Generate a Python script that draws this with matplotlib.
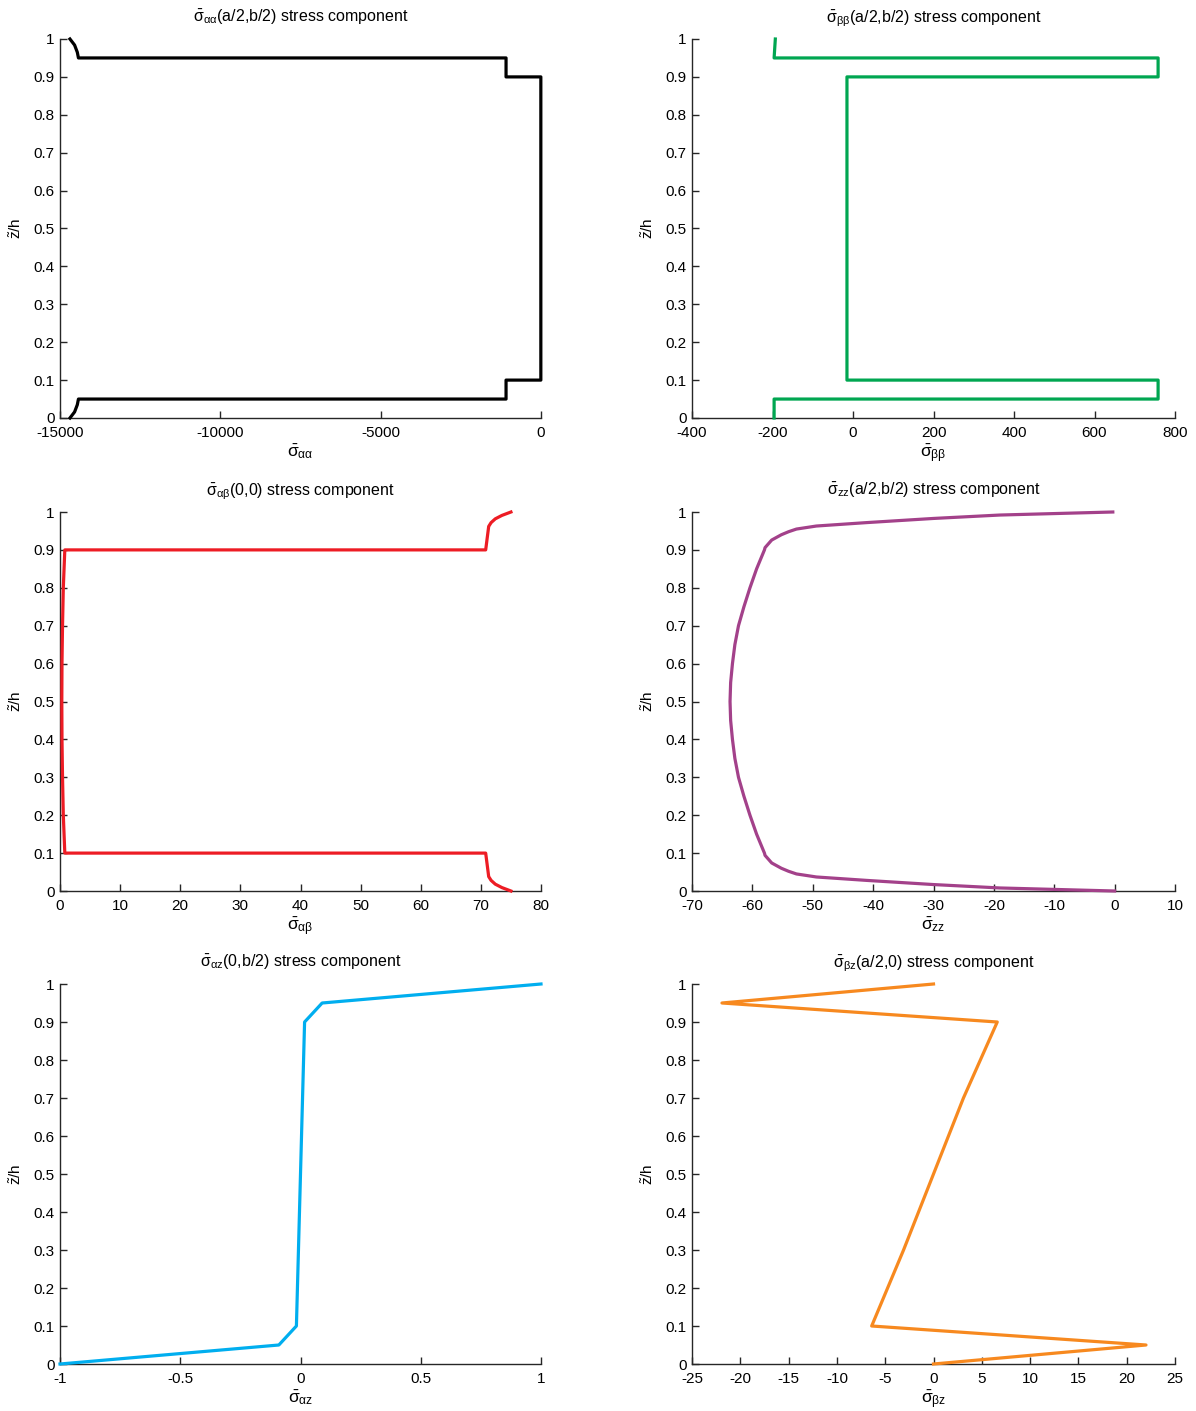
import matplotlib
matplotlib.use("Agg")
import matplotlib.pyplot as plt
from matplotlib.ticker import FormatStrFormatter, MultipleLocator

plt.rcParams.update({
    "font.family": ["Liberation Sans", "DejaVu Sans"],
    "mathtext.fontset": "custom",
    "mathtext.rm": "Liberation Sans",
    "mathtext.it": "Liberation Sans",
    "mathtext.bf": "Liberation Sans:bold",
    "axes.unicode_minus": False,
    "font.size": 11,
})

# Thickness coordinate (z~/h) and stress values for each panel
z_aa = [0.0, 0.016, 0.035, 0.05, 0.05, 0.1, 0.1, 0.9, 0.9, 0.95, 0.95, 0.965, 0.984, 1.0]
s_aa = [-14690, -14545, -14460, -14425, -1090, -1090, -5, -5, -1090, -1090, -14425, -14460, -14545, -14690]

z_bb = [0.0, 0.05, 0.05, 0.1, 0.1, 0.9, 0.9, 0.95, 0.95, 1.0]
s_bb = [-196, -196, 758, 758, -15, -15, 758, 758, -196, -193]

z_ab = [0.0, 0.009, 0.018, 0.028, 0.038, 0.1, 0.1, 0.2, 0.3, 0.4, 0.5, 0.6, 0.7, 0.8, 0.9, 0.9,
        0.962, 0.972, 0.982, 0.991, 1.0]
s_ab = [75.0, 73.5, 72.4, 71.7, 71.3, 70.8, 0.8, 0.55, 0.42, 0.33, 0.3, 0.33, 0.42, 0.55, 0.8, 70.8,
        71.3, 71.7, 72.4, 73.5, 75.0]

z_zz = [0.0, 0.008, 0.017, 0.028, 0.037, 0.045, 0.052, 0.06, 0.074, 0.094, 0.1, 0.15, 0.2, 0.25,
        0.3, 0.35, 0.4, 0.45, 0.5, 0.55, 0.6, 0.65, 0.7, 0.75, 0.8, 0.85, 0.9, 0.906, 0.926,
        0.94, 0.948, 0.955, 0.963, 0.972, 0.983, 0.992, 1.0]
s_zz = [0.0, -19.0, -30.0, -41.1, -49.4, -52.7, -54.0, -55.2, -56.8, -57.9, -58.0, -59.3, -60.4,
        -61.4, -62.3, -62.9, -63.3, -63.6, -63.7, -63.6, -63.3, -62.9, -62.3, -61.4, -60.4, -59.3,
        -58.0, -57.9, -56.8, -55.2, -54.0, -52.7, -49.4, -41.1, -30.0, -19.0, -0.3]

z_az = [0.0, 0.05, 0.1, 0.9, 0.95, 1.0]
s_az = [-1.0, -0.09, -0.017, 0.017, 0.09, 1.0]

z_bz = [0.0, 0.05, 0.1, 0.3, 0.5, 0.7, 0.9, 0.95, 1.0]
s_bz = [0.0, 22.0, -6.4, -3.1, 0.0, 3.1, 6.6, -21.9, 0.0]

panels = [
    dict(x=s_aa, z=z_aa, color="#000000", xlim=(-15000, 0), xstep=5000,
         title=r"$\bar{\sigma}_{\alpha\alpha}$(a/2,b/2) stress component",
         xlabel=r"$\bar{\sigma}_{\alpha\alpha}$"),
    dict(x=s_bb, z=z_bb, color="#00A651", xlim=(-400, 800), xstep=200,
         title=r"$\bar{\sigma}_{\beta\beta}$(a/2,b/2) stress component",
         xlabel=r"$\bar{\sigma}_{\beta\beta}$"),
    dict(x=s_ab, z=z_ab, color="#ED1C24", xlim=(0, 80), xstep=10,
         title=r"$\bar{\sigma}_{\alpha\beta}$(0,0) stress component",
         xlabel=r"$\bar{\sigma}_{\alpha\beta}$"),
    dict(x=s_zz, z=z_zz, color="#A3418A", xlim=(-70, 10), xstep=10,
         title=r"$\bar{\sigma}_{zz}$(a/2,b/2) stress component",
         xlabel=r"$\bar{\sigma}_{zz}$"),
    dict(x=s_az, z=z_az, color="#00AEEF", xlim=(-1, 1), xstep=0.5,
         title=r"$\bar{\sigma}_{\alpha z}$(0,b/2) stress component",
         xlabel=r"$\bar{\sigma}_{\alpha z}$"),
    dict(x=s_bz, z=z_bz, color="#F7891F", xlim=(-25, 25), xstep=5,
         title=r"$\bar{\sigma}_{\beta z}$(a/2,0) stress component",
         xlabel=r"$\bar{\sigma}_{\beta z}$"),
]

W, H = 1196, 1411
fig = plt.figure(figsize=(W / 100, H / 100), dpi=100)

col_px = [(60, 541), (692, 1175)]
row_px = [(39, 418), (512, 891), (984, 1364)]

axis_col = "#262626"
for i, p in enumerate(panels):
    r, c = divmod(i, 2)
    x0, x1 = col_px[c]
    y0, y1 = row_px[r]
    ax = fig.add_axes([x0 / W, 1 - y1 / H, (x1 - x0) / W, (y1 - y0) / H])
    ax.plot(p["x"], p["z"], color=p["color"], lw=2.3, solid_joinstyle="round",
            clip_on=False, zorder=3)
    ax.set_xlim(*p["xlim"])
    ax.set_ylim(0, 1)
    ax.xaxis.set_major_locator(MultipleLocator(p["xstep"]))
    ax.yaxis.set_major_locator(MultipleLocator(0.1))
    ax.xaxis.set_major_formatter(FormatStrFormatter("%g"))
    ax.yaxis.set_major_formatter(FormatStrFormatter("%g"))
    for s in ("top", "right"):
        ax.spines[s].set_visible(False)
    for s in ("left", "bottom"):
        ax.spines[s].set_color(axis_col)
        ax.spines[s].set_linewidth(1.0)
    ax.tick_params(direction="in", length=5, width=1.0, colors=axis_col,
                   labelcolor="black", labelsize=11)
    ax.tick_params(axis="x", pad=6)
    ax.tick_params(axis="y", pad=4)
    ax.set_title(p["title"], fontsize=11.5, pad=12)
    ax.set_xlabel(p["xlabel"], fontsize=12.5, labelpad=1)
    ax.set_ylabel(r"$\tilde{z}$/h", fontsize=11, labelpad=7)

fig.savefig("out.png", dpi=100)
